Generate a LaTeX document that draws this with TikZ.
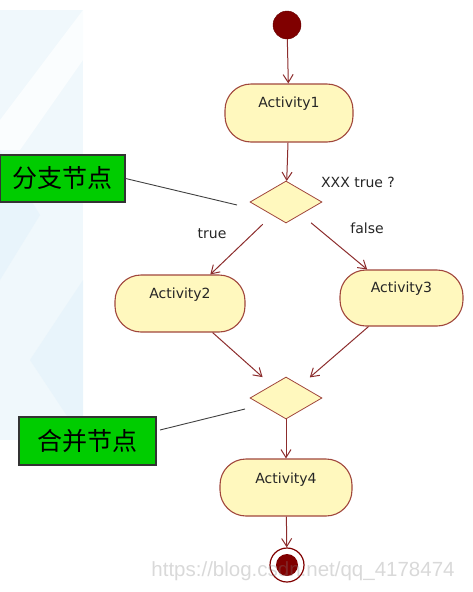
\documentclass[tikz,border=0pt]{standalone}
\usepackage{fontspec}
\setmainfont{DejaVu Sans}
\newfontfamily\cjk{Noto Sans CJK SC}
\newfontfamily\wmfont{Liberation Sans}
\usetikzlibrary{shapes.geometric,arrows.meta,calc}
\definecolor{umlred}{RGB}{128,0,0}
\definecolor{lineRed}{RGB}{140,45,45}
\definecolor{boxBorder}{RGB}{160,70,60}
\definecolor{boxFill}{RGB}{255,248,190}
\definecolor{noteGreen}{RGB}{0,204,0}
\definecolor{bgBlue}{RGB}{240,248,252}
\definecolor{bgBlue2}{RGB}{232,244,251}
\tikzset{
  actbox/.style={draw=boxBorder, line width=1.1pt, fill=boxFill, rounded corners=26pt, minimum width=130pt, minimum height=57pt, inner sep=0pt},
  acttext/.style={anchor=base, font=\fontsize{14}{16}\selectfont, text=black!85, inner sep=0pt},
  decision/.style={diamond, draw=boxBorder, line width=0.8pt, fill=boxFill, minimum width=72pt, minimum height=42pt, inner sep=0pt},
  flow/.style={draw=lineRed, line width=1pt, -{Straight Barb[length=8pt,width=10pt]}},
  guard/.style={anchor=base, font=\fontsize{14}{16}\selectfont, text=black!85, inner sep=0pt},
  note/.style={draw=black!80, line width=1.2pt, fill=noteGreen, inner sep=0pt, font=\cjk\fontsize{25}{28}\selectfont},
  noteline/.style={draw=black!75, line width=0.9pt},
}
\begin{document}
\begin{tikzpicture}[x=1pt,y=-1pt]
\useasboundingbox (0,0) rectangle (473,592);
% faint slide background
\fill[bgBlue] (0,10) rectangle (83,440);
\fill[bgBlue2] (0,150) -- (40,215) -- (0,280) -- cycle;
\fill[bgBlue2] (83,280) -- (30,360) -- (83,440) -- cycle;
\fill[white!70!bgBlue] (83,10) -- (83,60) -- (20,150) -- (0,150) -- (0,120) -- cycle;

% start node
\node[circle, fill=umlred, draw=umlred!80!black, minimum size=28pt, inner sep=0pt] (start) at (287,25) {};

% activities
\node[actbox, minimum width=128pt, minimum height=58pt] (a1) at (289,113) {};
\node[acttext] (t1) at (289,107) {Activity1};
\node[actbox] (a2) at (180,303.5) {};
\node[acttext] (t2) at (180,298) {Activity2};
\node[actbox, minimum width=123pt, minimum height=56pt] (a3) at (401.5,298) {};
\node[acttext] (t3) at (401.5,292) {Activity3};
\node[actbox, minimum width=132pt] (a4) at (286,487.5) {};
\node[acttext] (t4) at (286,483) {Activity4};

% decision / merge
\node[decision] (d1) at (286,202) {};
\node[decision] (d2) at (286,398) {};

% final node
\node[circle, draw=umlred, line width=1.2pt, fill=white, minimum size=34pt, inner sep=0pt] (fin) at (287,565) {};
\node[circle, fill=umlred, minimum size=22pt, inner sep=0pt] (finin) at (287,565) {};

% flows
\draw[flow] (start) -- (a1);
\draw[flow] (a1) -- (d1);
\draw[flow, shorten <=13pt] (d1) -- (a2);
\draw[flow, shorten <=13pt] (d1) -- (a3);
\draw[flow, shorten >=12pt] (a2) -- (d2);
\draw[flow, shorten >=12pt] (a3) -- (d2);
\draw[flow] (d2) -- (a4);
\draw[flow] (a4) -- (fin);

% guards
\node[guard] (g0) at (358,187) {XXX true ?};
\node[guard] (gt) at (212,238) {true};
\node[guard] (gf) at (367,233) {false};

% notes
\node[note, minimum width=125pt, minimum height=47pt] (n1) at (62.5,178.5) {分支节点};
\node[note, minimum width=137pt, minimum height=48pt] (n2) at (87.5,441) {合并节点};
\coordinate (p1) at (237,205);
\coordinate (q1) at (160,430);
\coordinate (q2) at (245,409);
\draw[noteline] (n1.east) -- (p1);
\draw[noteline] (q1) -- (q2);

% watermark
\node[font=\wmfont\fontsize{20.5}{22}\selectfont, text=gray, opacity=0.3, inner sep=0pt] (wm) at (303,571) {https://blog.csdn.net/qq\_4178474};
\end{tikzpicture}
\end{document}
